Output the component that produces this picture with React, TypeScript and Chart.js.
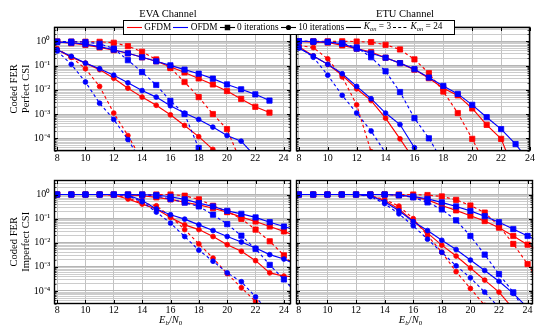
import React, { useEffect, useRef } from "react";
import { Chart, registerables } from "chart.js";

Chart.register(...registerables);

// ---------------- data ----------------
const EBN0 = [8, 9, 10, 11, 12, 13, 14, 15, 16, 17, 18, 19, 20, 21, 22, 23, 24, 25];
const X_TICKS = [8, 10, 12, 14, 16, 18, 20, 22, 24];
const Y_DECADES = [1, 0.1, 0.01, 0.001, 0.0001];
const Y_TICK_LABELS = ["10⁰", "10⁻¹", "10⁻²", "10⁻³", "10⁻⁴"];
const Y_MIN = 3e-5;
const Y_MAX = 4;
const N = null;

// EVA channel, perfect CSI
const EVA_P_GFDM_0_K3 = [0.95, 0.83, 0.71, 0.56, 0.43, 0.32, 0.22, 0.15, 0.089, 0.052, 0.0295, 0.0166, 0.0089, 0.0042, 0.002, 0.00115, N, N];
const EVA_P_OFDM_0_K3 = [0.93, 0.87, 0.76, 0.6, 0.45, 0.32, 0.22, 0.15, 0.102, 0.068, 0.046, 0.029, 0.0166, 0.0105, 0.0065, 0.0036, N, N];
const EVA_P_GFDM_0_K24 = [0.98, 0.97, 0.96, 0.95, 0.87, 0.63, 0.37, 0.178, 0.079, 0.021, 0.005, 0.001, 0.00024, 0.00001, N, N, N, N];
const EVA_P_OFDM_0_K24 = [0.98, 0.97, 0.93, 0.79, 0.5, 0.166, 0.054, 0.0158, 0.0035, 0.001, 0.00004, N, N, N, N, N, N, N];
const EVA_P_GFDM_10_K3 = [0.45, 0.22, 0.126, 0.068, 0.03, 0.0117, 0.005, 0.0023, 0.00093, 0.00034, 0.000117, 0.000035, 0.00001, N, N, N, N, N];
const EVA_P_OFDM_10_K3 = [0.45, 0.24, 0.126, 0.074, 0.04, 0.0195, 0.0093, 0.005, 0.0022, 0.0011, 0.0006, 0.00029, 0.00013, 0.000076, 0.000018, N, N, N];
const EVA_P_GFDM_10_K24 = [0.5, 0.22, 0.074, 0.0138, 0.0011, 0.00013, 0.0000126, N, N, N, N, N, N, N, N, N, N, N];
const EVA_P_OFDM_10_K24 = [0.4, 0.112, 0.021, 0.0028, 0.0006, 0.000089, 0.00001, N, N, N, N, N, N, N, N, N, N, N];

// ETU channel, perfect CSI
const ETU_P_GFDM_0_K3 = [1.0, 0.93, 0.89, 0.68, 0.5, 0.36, 0.21, 0.126, 0.068, 0.03, 0.0117, 0.0059, 0.0017, 0.00036, 0.000095, 0.0000032, N, N];
const ETU_P_OFDM_0_K3 = [1.0, 0.98, 0.93, 0.79, 0.5, 0.32, 0.21, 0.126, 0.071, 0.032, 0.0145, 0.0068, 0.0024, 0.00074, 0.00024, 0.000058, 0.00001, N];
const ETU_P_GFDM_0_K24 = [1.0, 1.0, 1.0, 1.0, 0.98, 0.93, 0.72, 0.46, 0.18, 0.049, 0.0085, 0.0011, 0.000095, 0.0000063, N, N, N, N];
const ETU_P_OFDM_0_K24 = [1.0, 0.98, 0.95, 0.83, 0.56, 0.22, 0.058, 0.0081, 0.00068, 0.0001, 0.00001, N, N, N, N, N, N, N];
const ETU_P_GFDM_10_K3 = [0.59, 0.25, 0.112, 0.04, 0.011, 0.0036, 0.00068, 0.000095, 0.0000126, N, N, N, N, N, N, N, N, N];
const ETU_P_OFDM_10_K3 = [0.52, 0.25, 0.112, 0.046, 0.0138, 0.0043, 0.0011, 0.00037, 0.000041, 0.0000032, N, N, N, N, N, N, N, N];
const ETU_P_GFDM_10_K24 = [0.68, 0.55, 0.19, 0.034, 0.0024, 0.000028, N, N, N, N, N, N, N, N, N, N, N, N];
const ETU_P_OFDM_10_K24 = [0.59, 0.22, 0.04, 0.0059, 0.0011, 0.0002, 0.000025, N, N, N, N, N, N, N, N, N, N, N];

// EVA channel, imperfect CSI
const EVA_I_GFDM_0_K3 = [1.0, 1.0, 1.0, 1.0, 0.98, 0.95, 0.89, 0.76, 0.63, 0.48, 0.37, 0.27, 0.186, 0.115, 0.076, 0.047, 0.0295, 0.0178];
const EVA_I_OFDM_0_K3 = [1.0, 1.0, 1.0, 1.0, 1.0, 0.99, 0.98, 0.95, 0.81, 0.63, 0.44, 0.32, 0.21, 0.158, 0.112, 0.071, 0.047, 0.032];
const EVA_I_GFDM_0_K24 = [1.0, 1.0, 1.0, 1.0, 1.0, 1.0, 1.0, 1.0, 1.0, 0.89, 0.63, 0.34, 0.195, 0.098, 0.035, 0.0115, 0.003, 0.0007];
const EVA_I_OFDM_0_K24 = [1.0, 1.0, 1.0, 1.0, 1.0, 1.0, 1.0, 0.87, 0.65, 0.46, 0.32, 0.145, 0.059, 0.0195, 0.0055, 0.0012, 0.0003, 0.000063];
const EVA_I_GFDM_10_K3 = [1.0, 1.0, 1.0, 1.0, 0.95, 0.65, 0.4, 0.25, 0.112, 0.055, 0.035, 0.018, 0.0083, 0.0044, 0.0018, 0.00056, 0.00041, 0.00038];
const EVA_I_OFDM_10_K3 = [1.0, 1.0, 1.0, 1.0, 1.0, 0.95, 0.56, 0.25, 0.145, 0.095, 0.055, 0.032, 0.018, 0.0107, 0.006, 0.0032, 0.0021, 0.0011];
const EVA_I_GFDM_10_K24 = [1.0, 1.0, 1.0, 1.0, 0.95, 0.71, 0.45, 0.34, 0.123, 0.035, 0.0089, 0.0023, 0.00052, 0.000135, 0.000036, 0.00001, N, N];
const EVA_I_OFDM_10_K24 = [1.0, 1.0, 1.0, 1.0, 1.0, 0.89, 0.5, 0.186, 0.065, 0.018, 0.0049, 0.0017, 0.00056, 0.00024, 0.000056, 0.0000126, N, N];

// ETU channel, imperfect CSI
const ETU_I_GFDM_0_K3 = [1, 1, 1, 1, 1, 1, 1, 0.93, 0.79, 0.6, 0.35, 0.22, 0.132, 0.079, 0.042, 0.019, 0.0083, 0.004];
const ETU_I_OFDM_0_K3 = [1, 1, 1, 1, 1, 1, 1, 0.95, 0.83, 0.66, 0.47, 0.32, 0.21, 0.126, 0.071, 0.037, 0.019, 0.01];
const ETU_I_GFDM_0_K24 = [1, 1, 1, 1, 1, 1, 1, 1, 1, 0.95, 0.83, 0.6, 0.35, 0.178, 0.05, 0.0089, 0.0013, 0.00016];
const ETU_I_OFDM_0_K24 = [1, 1, 1, 1, 1, 1, 1, 0.93, 0.76, 0.47, 0.24, 0.085, 0.019, 0.0032, 0.0005, 0.000087, 0.00001, N];
const ETU_I_GFDM_10_K3 = [1, 1, 1, 1, 1, 0.89, 0.56, 0.25, 0.079, 0.025, 0.0079, 0.0028, 0.00089, 0.00028, 0.000089, 0.000018, N, N];
const ETU_I_OFDM_10_K3 = [1, 1, 1, 1, 1, 0.89, 0.5, 0.21, 0.076, 0.032, 0.0126, 0.0052, 0.0019, 0.0007, 0.00025, 0.000079, 0.00002, N];
const ETU_I_GFDM_10_K24 = [1, 1, 1, 1, 1, 0.89, 0.63, 0.33, 0.1, 0.02, 0.004, 0.00063, 0.000126, 0.000025, N, N, N, N];
const ETU_I_OFDM_10_K24 = [1, 1, 1, 1, 1, 0.83, 0.42, 0.158, 0.05, 0.014, 0.004, 0.0011, 0.00035, 0.000089, 0.00002, N, N, N];

// ---------------- styles ----------------
const RED = "#ff0000";
const BLUE = "#0000ff";
const FONT = "'Liberation Serif', 'Times New Roman', serif";

Chart.defaults.font.family = FONT;
Chart.defaults.color = "#000";

type Series = { values: (number | null)[]; color: string; marker: "rect" | "circle"; dashed: boolean };

function group(o0k3: any, g0k3: any, o0k24: any, g0k24: any, o10k3: any, g10k3: any, o10k24: any, g10k24: any): Series[] {
  // blue first so that it is drawn on top
  return [
    { values: o0k3, color: BLUE, marker: "rect", dashed: false },
    { values: o0k24, color: BLUE, marker: "rect", dashed: true },
    { values: o10k3, color: BLUE, marker: "circle", dashed: false },
    { values: o10k24, color: BLUE, marker: "circle", dashed: true },
    { values: g0k3, color: RED, marker: "rect", dashed: false },
    { values: g0k24, color: RED, marker: "rect", dashed: true },
    { values: g10k3, color: RED, marker: "circle", dashed: false },
    { values: g10k24, color: RED, marker: "circle", dashed: true },
  ];
}

const PANELS = [
  {
    key: "tl",
    area: { left: 54.3, top: 26.7, right: 290.7, bottom: 151 },
    xMax: 24.5,
    yTitle: ["Coded FER", "Perfect CSI"],
    series: group(EVA_P_OFDM_0_K3, EVA_P_GFDM_0_K3, EVA_P_OFDM_0_K24, EVA_P_GFDM_0_K24, EVA_P_OFDM_10_K3, EVA_P_GFDM_10_K3, EVA_P_OFDM_10_K24, EVA_P_GFDM_10_K24),
  },
  {
    key: "tr",
    area: { left: 296, top: 26.7, right: 532.7, bottom: 151 },
    xMax: 24,
    yTitle: null,
    series: group(ETU_P_OFDM_0_K3, ETU_P_GFDM_0_K3, ETU_P_OFDM_0_K24, ETU_P_GFDM_0_K24, ETU_P_OFDM_10_K3, ETU_P_GFDM_10_K3, ETU_P_OFDM_10_K24, ETU_P_GFDM_10_K24),
  },
  {
    key: "bl",
    area: { left: 54.3, top: 180, right: 291, bottom: 303.5 },
    xMax: 24.5,
    yTitle: ["Coded FER", "Imperfect CSI"],
    series: group(EVA_I_OFDM_0_K3, EVA_I_GFDM_0_K3, EVA_I_OFDM_0_K24, EVA_I_GFDM_0_K24, EVA_I_OFDM_10_K3, EVA_I_GFDM_10_K3, EVA_I_OFDM_10_K24, EVA_I_GFDM_10_K24),
  },
  {
    key: "br",
    area: { left: 296, top: 180, right: 533.3, bottom: 303.5 },
    xMax: 24.4,
    yTitle: null,
    series: group(ETU_I_OFDM_0_K3, ETU_I_GFDM_0_K3, ETU_I_OFDM_0_K24, ETU_I_GFDM_0_K24, ETU_I_OFDM_10_K3, ETU_I_GFDM_10_K3, ETU_I_OFDM_10_K24, ETU_I_GFDM_10_K24),
  },
];

const W = 536;
const H = 333;
const XH = 14;

const isDecade = (v: number) => Y_DECADES.some((d) => Math.abs(v / d - 1) < 1e-6);

function logTicks(min: number, max: number) {
  const out: { value: number }[] = [];
  for (let e = -6; e <= 1; e++) {
    for (let m = 1; m <= 9; m++) {
      const v = m * Math.pow(10, e);
      if (v >= min * 0.9999 && v <= max * 1.0001) out.push({ value: v });
    }
  }
  return out;
}

const framePlugin = {
  id: "frame",
  afterDraw(chart: any) {
    const { ctx, chartArea: a, scales } = chart;
    const L = Math.round(a.left) + 0.5;
    const R = Math.round(a.right) - 0.5;
    const T = Math.round(a.top) + 0.5;
    const B = Math.round(a.bottom) - 0.5;
    ctx.save();
    ctx.strokeStyle = "#000";
    scales.y.ticks.forEach((t: any) => {
      const p = Math.round(scales.y.getPixelForValue(t.value)) + 0.5;
      const major = isDecade(t.value);
      const len = major ? 3.5 : 2;
      ctx.lineWidth = major ? 1 : 0.7;
      ctx.beginPath();
      ctx.moveTo(L, p);
      ctx.lineTo(L + len, p);
      ctx.moveTo(R, p);
      ctx.lineTo(R - len, p);
      ctx.stroke();
    });
    ctx.lineWidth = 1;
    scales.x.ticks.forEach((t: any) => {
      const p = Math.round(scales.x.getPixelForValue(t.value)) + 0.5;
      ctx.beginPath();
      ctx.moveTo(p, B);
      ctx.lineTo(p, B - 3.5);
      ctx.moveTo(p, T);
      ctx.lineTo(p, T + 3.5);
      ctx.stroke();
    });
    ctx.lineWidth = 1.4;
    ctx.strokeRect(L, T, R - L, B - T);
    ctx.restore();
  },
};

function Panel({ cfg }: { cfg: any }) {
  const ref = useRef<HTMLCanvasElement>(null);
  useEffect(() => {
    const yw = cfg.yTitle ? cfg.area.left : 0;
    const chart = new Chart(ref.current as HTMLCanvasElement, {
      type: "line",
      data: {
        datasets: cfg.series.map((s: Series) => ({
          data: EBN0.map((x, i) => ({ x, y: s.values[i] })).filter((p) => p.y !== null),
          borderColor: s.color,
          backgroundColor: s.color,
          pointBackgroundColor: s.color,
          pointBorderColor: s.color,
          borderWidth: 1.15,
          borderDash: s.dashed ? [3, 2.7] : [],
          pointStyle: s.marker,
          pointRadius: s.marker === "rect" ? 3.7 : 2.4,
          pointBorderWidth: 0.8,
          tension: 0,
          fill: false,
        })),
      },
      options: {
        responsive: false,
        animation: false,
        devicePixelRatio: 1,
        events: [],
        layout: {
          autoPadding: false,
          padding: {
            left: cfg.area.left - yw,
            top: cfg.area.top,
            right: W - cfg.area.right,
            bottom: H - cfg.area.bottom - XH,
          },
        },
        plugins: { legend: { display: false }, tooltip: { enabled: false }, title: { display: false } },
        scales: {
          x: {
            type: "linear",
            min: 7.8,
            max: cfg.xMax,
            afterFit: (s: any) => {
              s.height = XH;
            },
            afterBuildTicks: (s: any) => {
              s.ticks = X_TICKS.map((v) => ({ value: v }));
            },
            ticks: {
              autoSkip: false,
              maxRotation: 0,
              padding: 1,
              color: "#000",
              font: { size: 10, family: FONT },
              callback: (v: any) => String(v),
            },
            grid: { color: "#c2c2c2", lineWidth: 1, drawTicks: false },
            border: { display: false },
          },
          y: {
            type: "logarithmic",
            min: Y_MIN,
            max: Y_MAX,
            afterFit: (s: any) => {
              s.width = yw;
            },
            afterBuildTicks: (s: any) => {
              s.ticks = logTicks(Y_MIN, Y_MAX);
            },
            ticks: {
              display: !!cfg.yTitle,
              autoSkip: false,
              padding: 4,
              color: "#000",
              font: { size: 10, family: FONT },
              callback: (v: any) => {
                const i = Y_DECADES.findIndex((d) => Math.abs(v / d - 1) < 1e-6);
                return i >= 0 ? Y_TICK_LABELS[i] : "";
              },
            },
            grid: {
              drawTicks: false,
              color: (c: any) => (c.tick && isDecade(c.tick.value) ? "#b4b4b4" : "#c6c6c6"),
              lineWidth: (c: any) => (c.tick && isDecade(c.tick.value) ? 1 : 0.9),
            },
            border: { display: false },
            title: {
              display: !!cfg.yTitle,
              text: cfg.yTitle || "",
              color: "#000",
              font: { size: 10.5, family: FONT, lineHeight: 1.2 },
              padding: { top: 7.7, bottom: 0 },
            },
          },
        },
      } as any,
      plugins: [framePlugin],
    });
    return () => chart.destroy();
  }, []);
  return (
    <canvas
      ref={ref}
      width={W}
      height={H}
      style={{ position: "absolute", left: 0, top: 0, width: W, height: H }}
    />
  );
}

function Sample({ color, marker, dashed }: { color: string; marker?: string; dashed?: boolean }) {
  return (
    <svg width={15} height={9} style={{ display: "block", flex: "none" }}>
      <line x1={0} y1={4.5} x2={15} y2={4.5} stroke={color} strokeWidth={1.1} strokeDasharray={dashed ? "3 2.2" : undefined} />
      {marker === "rect" && <rect x={4.75} y={1.75} width={5.5} height={5.5} fill={color} />}
      {marker === "circle" && <circle cx={7.5} cy={4.5} r={2.6} fill={color} />}
    </svg>
  );
}

const Kon = ({ n }: { n: string }) => (
  <span>
    <i>K</i>
    <sub style={{ fontSize: 6.5, verticalAlign: -2, fontStyle: "italic" }}>on</sub>
    {" = " + n}
  </span>
);

const LEGEND_ITEMS = [
  { sample: { color: RED }, text: "GFDM" },
  { sample: { color: BLUE }, text: "OFDM" },
  { sample: { color: "#000", marker: "rect" }, text: "0 iterations" },
  { sample: { color: "#000", marker: "circle" }, text: "10 iterations" },
  { sample: { color: "#000" }, text: "K3" },
  { sample: { color: "#000", dashed: true }, text: "K24" },
];

function Legend() {
  return (
    <div
      style={{
        position: "absolute",
        left: 123.3,
        top: 20,
        width: 331.7,
        height: 15,
        boxSizing: "border-box",
        border: "1.2px solid #000",
        background: "#fff",
        display: "flex",
        alignItems: "center",
        paddingLeft: 2.5,
        fontFamily: FONT,
        fontSize: 9.3,
        color: "#000",
        whiteSpace: "nowrap",
        lineHeight: 1,
      }}
    >
      {LEGEND_ITEMS.map((it, i) => (
        <div key={i} style={{ display: "flex", alignItems: "center", marginRight: 2 }}>
          <Sample {...(it.sample as any)} />
          <span style={{ marginLeft: 2.5 }}>
            {it.text === "K3" ? <Kon n="3" /> : it.text === "K24" ? <Kon n="24" /> : it.text}
          </span>
        </div>
      ))}
    </div>
  );
}

const textStyle = (cx: number, cy: number, size: number): React.CSSProperties => ({
  position: "absolute",
  left: cx,
  top: cy,
  transform: "translate(-50%, -50%)",
  fontFamily: FONT,
  fontSize: size,
  color: "#000",
  whiteSpace: "nowrap",
  lineHeight: 1,
});

const XLabel = ({ cx }: { cx: number }) => (
  <div style={textStyle(cx, 321, 10.5)}>
    <i>E</i>
    <sub style={{ fontSize: 7, verticalAlign: -2.5, fontStyle: "italic" }}>b</sub>
    /<i>N</i>
    <sub style={{ fontSize: 7, verticalAlign: -2.5 }}>0</sub>
  </div>
);

export default function App() {
  useEffect(() => {
    document.body.style.margin = "0";
  }, []);
  return (
    <div style={{ position: "fixed", left: 0, top: 0, width: W, height: H, overflow: "hidden", background: "#fff" }}>
      {PANELS.map((p) => (
        <Panel key={p.key} cfg={p} />
      ))}
      <div style={textStyle(168, 13.7, 10.5)}>EVA Channel</div>
      <div style={textStyle(405, 13.7, 10.5)}>ETU Channel</div>
      <Legend />
      <XLabel cx={170.7} />
      <XLabel cx={410.5} />
    </div>
  );
}
